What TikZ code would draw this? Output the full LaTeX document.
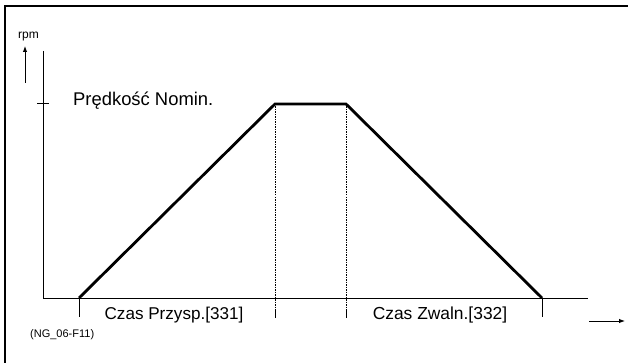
\documentclass[tikz,border=0pt]{standalone}
\usepackage{fontspec}
\setmainfont{Liberation Sans}
\usetikzlibrary{arrows.meta}
\begin{document}
\begin{tikzpicture}[x=1pt,y=-1pt,
  frame/.style={line width=2.6pt},
  axis/.style={line width=1pt},
  ramp/.style={line width=2.8pt, line join=miter},
  guide/.style={line width=0.9pt, dash pattern=on 1.5pt off 1pt},
  arr/.style={line width=1pt,-{Latex[length=6pt,width=4.5pt]}},
  lbl/.style={inner sep=0pt, anchor=base west},
  clbl/.style={inner sep=0pt, anchor=base}]
\useasboundingbox (0,0) rectangle (628,363);
% frame
\draw[frame] (5,365) -- (5,6) -- (630,6);
% coordinates
\coordinate (O) at (43,298);
\coordinate (ytop) at (43,51);
\coordinate (xend) at (588,298);
\coordinate (A) at (79,298);
\coordinate (B) at (275,104);
\coordinate (C) at (346,104);
\coordinate (D) at (542,298);
\coordinate (Ab) at (79,317);
\coordinate (Bb) at (275,317);
\coordinate (Cb) at (346,317);
\coordinate (Db) at (542,317);
\coordinate (tk1) at (37,104);
\coordinate (tk2) at (49,104);
\coordinate (ua1) at (25,83);
\coordinate (ua2) at (25,46);
\coordinate (ra1) at (589,321);
\coordinate (ra2) at (625,321);
% axes
\draw[axis] (ytop) -- (O) -- (xend);
\draw[axis] (tk1) -- (tk2);
\draw[axis] (A) -- (Ab);
\draw[axis] (D) -- (Db);
\draw[axis] (Bb) -- ++(0,-8);
\draw[axis] (Cb) -- ++(0,-8);
% guides
\draw[guide] (B) -- (Bb);
\draw[guide] (C) -- (Cb);
% profile
\draw[ramp] (A) -- (B) -- (C) -- (D);
% arrows
\draw[arr] (ua1) -- (ua2);
\draw[arr] (ra1) -- (ra2);
% labels
\node[lbl, font=\fontsize{12}{14}\selectfont] (rpm) at (18,39) {rpm};
\node[lbl, font=\fontsize{18.4}{21}\selectfont] (nom) at (73,106) {Prędkość Nomin.};
\node[clbl, font=\fontsize{17.1}{20}\selectfont] (acc) at (174,319) {Czas Przysp.[331]};
\node[clbl, font=\fontsize{17.4}{20}\selectfont] (dec) at (440,319) {Czas Zwaln.[332]};
\node[lbl, font=\fontsize{11}{13}\selectfont] (ng) at (30,337) {(NG\_06-F11)};
\end{tikzpicture}
\end{document}
